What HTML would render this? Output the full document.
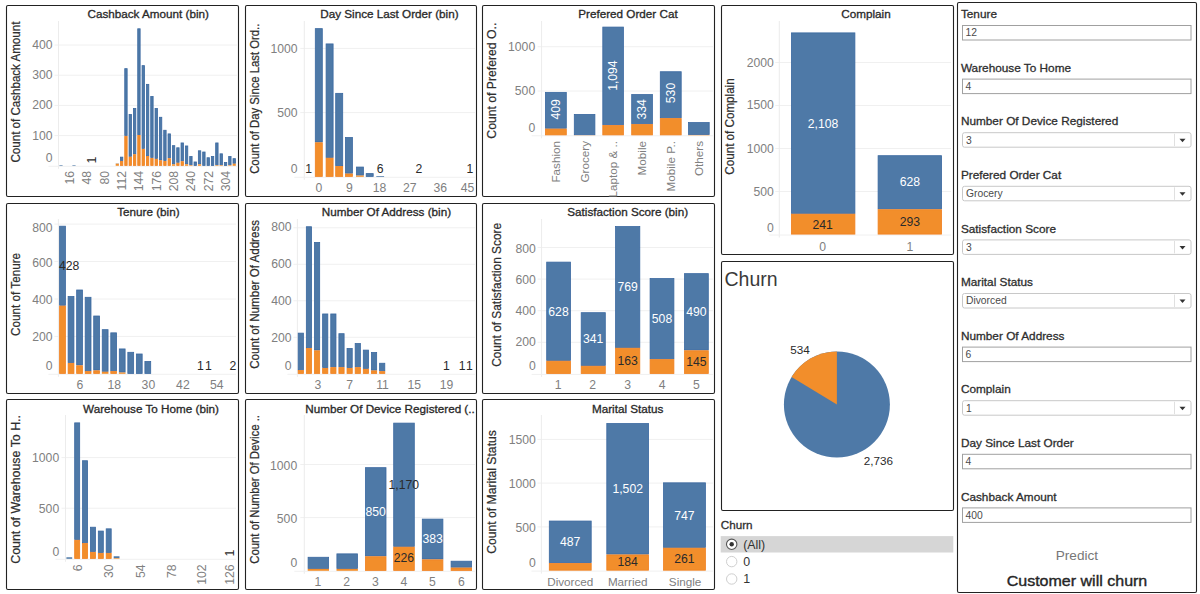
<!DOCTYPE html>
<html><head><meta charset="utf-8"><title>Churn Dashboard</title>
<style>html,body{margin:0;padding:0;background:#fff;width:1200px;height:594px;overflow:hidden}svg{display:block}</style>
</head><body>
<svg width="1200" height="594" viewBox="0 0 1200 594" font-family='"Liberation Sans", sans-serif'>
<rect width="1200" height="594" fill="#fff"/>
<rect x="6.5" y="5.5" width="232" height="191" rx="1.5" fill="#fff" stroke="#222" stroke-width="1.1"/>
<rect x="245.5" y="5.5" width="231" height="191" rx="1.5" fill="#fff" stroke="#222" stroke-width="1.1"/>
<rect x="482.5" y="5.5" width="232" height="191" rx="1.5" fill="#fff" stroke="#222" stroke-width="1.1"/>
<rect x="6.5" y="203.5" width="232" height="190" rx="1.5" fill="#fff" stroke="#222" stroke-width="1.1"/>
<rect x="245.5" y="203.5" width="231" height="190" rx="1.5" fill="#fff" stroke="#222" stroke-width="1.1"/>
<rect x="482.5" y="203.5" width="232" height="190" rx="1.5" fill="#fff" stroke="#222" stroke-width="1.1"/>
<rect x="6.5" y="399.5" width="232" height="190" rx="1.5" fill="#fff" stroke="#222" stroke-width="1.1"/>
<rect x="245.5" y="399.5" width="231" height="190" rx="1.5" fill="#fff" stroke="#222" stroke-width="1.1"/>
<rect x="482.5" y="399.5" width="232" height="190" rx="1.5" fill="#fff" stroke="#222" stroke-width="1.1"/>
<rect x="721.5" y="5.5" width="232" height="249" rx="1.5" fill="#fff" stroke="#222" stroke-width="1.1"/>
<rect x="721.5" y="261.5" width="232" height="249" rx="1.5" fill="#fff" stroke="#222" stroke-width="1.1"/>
<rect x="957.5" y="2.5" width="239" height="590" rx="1.5" fill="#fff" stroke="#222" stroke-width="1.1"/>
<line x1="54.5" y1="45.0" x2="237" y2="45.0" stroke="#f0f0f0" stroke-width="1"/>
<text x="52.5" y="49.1" font-size="12.2" text-anchor="end" fill="#808080" font-weight="normal">400</text>
<line x1="54.5" y1="75.2" x2="237" y2="75.2" stroke="#f0f0f0" stroke-width="1"/>
<text x="52.5" y="79.3" font-size="12.2" text-anchor="end" fill="#808080" font-weight="normal">300</text>
<line x1="54.5" y1="105.4" x2="237" y2="105.4" stroke="#f0f0f0" stroke-width="1"/>
<text x="52.5" y="109.4" font-size="12.2" text-anchor="end" fill="#808080" font-weight="normal">200</text>
<line x1="54.5" y1="135.6" x2="237" y2="135.6" stroke="#f0f0f0" stroke-width="1"/>
<text x="52.5" y="140.3" font-size="12.2" text-anchor="end" fill="#808080" font-weight="normal">100</text>
<text x="52.5" y="162.4" font-size="12.2" text-anchor="end" fill="#808080" font-weight="normal">0</text>
<line x1="58.5" y1="21" x2="58.5" y2="168.8" stroke="#ececec" stroke-width="1"/>
<line x1="48.5" y1="166.3" x2="237" y2="166.3" stroke="#f0f0f0" stroke-width="1"/>
<rect x="59.40" y="165.20" width="3.20" height="0.60" fill="#4e79a7"/>
<rect x="72.39" y="165.20" width="3.20" height="0.60" fill="#4e79a7"/>
<rect x="115.69" y="163.38" width="3.20" height="0.30" fill="#4e79a7"/>
<rect x="115.69" y="163.69" width="3.20" height="2.11" fill="#f28e2b"/>
<rect x="120.42" y="157.14" width="2.40" height="3.43" fill="#4e79a7" stroke="#3a68a0" stroke-width="0.8"/>
<rect x="120.42" y="161.37" width="2.40" height="4.03" fill="#f28e2b" stroke="#f08020" stroke-width="0.8"/>
<rect x="124.75" y="68.65" width="2.40" height="66.85" fill="#4e79a7" stroke="#3a68a0" stroke-width="0.8"/>
<rect x="124.75" y="136.30" width="2.40" height="29.10" fill="#f28e2b" stroke="#f08020" stroke-width="0.8"/>
<rect x="129.08" y="114.56" width="2.40" height="41.78" fill="#4e79a7" stroke="#3a68a0" stroke-width="0.8"/>
<rect x="129.08" y="157.14" width="2.40" height="8.26" fill="#f28e2b" stroke="#f08020" stroke-width="0.8"/>
<rect x="133.41" y="108.52" width="2.40" height="45.41" fill="#4e79a7" stroke="#3a68a0" stroke-width="0.8"/>
<rect x="133.41" y="154.72" width="2.40" height="10.68" fill="#f28e2b" stroke="#f08020" stroke-width="0.8"/>
<rect x="137.74" y="28.79" width="2.40" height="105.81" fill="#4e79a7" stroke="#3a68a0" stroke-width="0.8"/>
<rect x="137.74" y="135.40" width="2.40" height="30.00" fill="#f28e2b" stroke="#f08020" stroke-width="0.8"/>
<rect x="142.07" y="65.63" width="2.40" height="82.85" fill="#4e79a7" stroke="#3a68a0" stroke-width="0.8"/>
<rect x="142.07" y="149.29" width="2.40" height="16.11" fill="#f28e2b" stroke="#f08020" stroke-width="0.8"/>
<rect x="146.40" y="84.36" width="2.40" height="71.38" fill="#4e79a7" stroke="#3a68a0" stroke-width="0.8"/>
<rect x="146.40" y="156.54" width="2.40" height="8.86" fill="#f28e2b" stroke="#f08020" stroke-width="0.8"/>
<rect x="150.73" y="96.44" width="2.40" height="61.11" fill="#4e79a7" stroke="#3a68a0" stroke-width="0.8"/>
<rect x="150.73" y="158.35" width="2.40" height="7.05" fill="#f28e2b" stroke="#f08020" stroke-width="0.8"/>
<rect x="155.06" y="108.52" width="2.40" height="49.94" fill="#4e79a7" stroke="#3a68a0" stroke-width="0.8"/>
<rect x="155.06" y="159.25" width="2.40" height="6.15" fill="#f28e2b" stroke="#f08020" stroke-width="0.8"/>
<rect x="159.39" y="117.28" width="2.40" height="42.69" fill="#4e79a7" stroke="#3a68a0" stroke-width="0.8"/>
<rect x="159.39" y="160.76" width="2.40" height="4.64" fill="#f28e2b" stroke="#f08020" stroke-width="0.8"/>
<rect x="163.72" y="130.26" width="2.40" height="30.31" fill="#4e79a7" stroke="#3a68a0" stroke-width="0.8"/>
<rect x="163.72" y="161.37" width="2.40" height="4.03" fill="#f28e2b" stroke="#f08020" stroke-width="0.8"/>
<rect x="168.05" y="133.89" width="2.40" height="23.96" fill="#4e79a7" stroke="#3a68a0" stroke-width="0.8"/>
<rect x="168.05" y="158.65" width="2.40" height="6.75" fill="#f28e2b" stroke="#f08020" stroke-width="0.8"/>
<rect x="172.38" y="145.66" width="2.40" height="18.23" fill="#4e79a7" stroke="#3a68a0" stroke-width="0.8"/>
<rect x="171.98" y="164.29" width="3.20" height="1.51" fill="#f28e2b"/>
<rect x="176.71" y="147.78" width="2.40" height="14.60" fill="#4e79a7" stroke="#3a68a0" stroke-width="0.8"/>
<rect x="176.71" y="163.18" width="2.40" height="2.22" fill="#f28e2b" stroke="#f08020" stroke-width="0.8"/>
<rect x="181.04" y="142.95" width="2.40" height="17.92" fill="#4e79a7" stroke="#3a68a0" stroke-width="0.8"/>
<rect x="181.04" y="161.67" width="2.40" height="3.73" fill="#f28e2b" stroke="#f08020" stroke-width="0.8"/>
<rect x="185.37" y="145.97" width="2.40" height="17.92" fill="#4e79a7" stroke="#3a68a0" stroke-width="0.8"/>
<rect x="184.97" y="164.29" width="3.20" height="1.51" fill="#f28e2b"/>
<rect x="189.70" y="156.54" width="2.40" height="8.26" fill="#4e79a7" stroke="#3a68a0" stroke-width="0.8"/>
<rect x="189.30" y="165.20" width="3.20" height="0.60" fill="#f28e2b"/>
<rect x="194.03" y="161.97" width="2.40" height="3.43" fill="#4e79a7" stroke="#3a68a0" stroke-width="0.8"/>
<rect x="198.36" y="150.80" width="2.40" height="13.09" fill="#4e79a7" stroke="#3a68a0" stroke-width="0.8"/>
<rect x="197.96" y="164.29" width="3.20" height="1.51" fill="#f28e2b"/>
<rect x="202.69" y="152.01" width="2.40" height="13.39" fill="#4e79a7" stroke="#3a68a0" stroke-width="0.8"/>
<rect x="207.02" y="157.74" width="2.40" height="7.66" fill="#4e79a7" stroke="#3a68a0" stroke-width="0.8"/>
<rect x="211.35" y="156.54" width="2.40" height="8.86" fill="#4e79a7" stroke="#3a68a0" stroke-width="0.8"/>
<rect x="215.68" y="142.95" width="2.40" height="21.85" fill="#4e79a7" stroke="#3a68a0" stroke-width="0.8"/>
<rect x="215.28" y="165.20" width="3.20" height="0.60" fill="#f28e2b"/>
<rect x="220.01" y="153.82" width="2.40" height="10.98" fill="#4e79a7" stroke="#3a68a0" stroke-width="0.8"/>
<rect x="219.61" y="165.20" width="3.20" height="0.60" fill="#f28e2b"/>
<rect x="224.34" y="162.58" width="2.40" height="2.82" fill="#4e79a7" stroke="#3a68a0" stroke-width="0.8"/>
<rect x="228.67" y="156.54" width="2.40" height="8.26" fill="#4e79a7" stroke="#3a68a0" stroke-width="0.8"/>
<rect x="228.27" y="165.20" width="3.20" height="0.60" fill="#f28e2b"/>
<rect x="233.00" y="158.65" width="2.40" height="4.64" fill="#4e79a7" stroke="#3a68a0" stroke-width="0.8"/>
<rect x="232.60" y="163.69" width="3.20" height="2.11" fill="#f28e2b"/>
<text x="148.2" y="18.3" font-size="11.7" text-anchor="middle" fill="#2a2a2a" font-weight="normal" stroke="#2a2a2a" stroke-width="0.32">Cashback Amount (bin)</text>
<text transform="translate(15.4,92.1) rotate(-90)" x="0" y="4.3" font-size="12" text-anchor="middle" fill="#2e2e2e" font-weight="normal" stroke="#2e2e2e" stroke-width="0.22" textLength="140.9" lengthAdjust="spacingAndGlyphs">Count of Cashback Amount</text>
<text transform="translate(91.3,160.0) rotate(-90)" x="0" y="4.4" font-size="12.2" text-anchor="middle" fill="#2a2a2a" font-weight="normal">1</text>
<text transform="translate(69.7,171.0) rotate(-90)" x="0" y="4.4" font-size="12.2" text-anchor="end" fill="#808080" font-weight="normal">16</text>
<text transform="translate(87.0,171.0) rotate(-90)" x="0" y="4.4" font-size="12.2" text-anchor="end" fill="#808080" font-weight="normal">48</text>
<text transform="translate(104.3,171.0) rotate(-90)" x="0" y="4.4" font-size="12.2" text-anchor="end" fill="#808080" font-weight="normal">80</text>
<text transform="translate(121.6,171.0) rotate(-90)" x="0" y="4.4" font-size="12.2" text-anchor="end" fill="#808080" font-weight="normal">112</text>
<text transform="translate(138.9,171.0) rotate(-90)" x="0" y="4.4" font-size="12.2" text-anchor="end" fill="#808080" font-weight="normal">144</text>
<text transform="translate(156.3,171.0) rotate(-90)" x="0" y="4.4" font-size="12.2" text-anchor="end" fill="#808080" font-weight="normal">176</text>
<text transform="translate(173.6,171.0) rotate(-90)" x="0" y="4.4" font-size="12.2" text-anchor="end" fill="#808080" font-weight="normal">208</text>
<text transform="translate(190.9,171.0) rotate(-90)" x="0" y="4.4" font-size="12.2" text-anchor="end" fill="#808080" font-weight="normal">240</text>
<text transform="translate(208.2,171.0) rotate(-90)" x="0" y="4.4" font-size="12.2" text-anchor="end" fill="#808080" font-weight="normal">272</text>
<text transform="translate(225.5,171.0) rotate(-90)" x="0" y="4.4" font-size="12.2" text-anchor="end" fill="#808080" font-weight="normal">304</text>
<line x1="300.3" y1="48.4" x2="475" y2="48.4" stroke="#f0f0f0" stroke-width="1"/>
<text x="297.5" y="53.0" font-size="12.2" text-anchor="end" fill="#808080" font-weight="normal">1000</text>
<line x1="300.3" y1="112.6" x2="475" y2="112.6" stroke="#f0f0f0" stroke-width="1"/>
<text x="297.5" y="117.0" font-size="12.2" text-anchor="end" fill="#808080" font-weight="normal">500</text>
<text x="297.5" y="173.4" font-size="12.2" text-anchor="end" fill="#808080" font-weight="normal">0</text>
<line x1="304.3" y1="21" x2="304.3" y2="179.8" stroke="#ececec" stroke-width="1"/>
<line x1="294.3" y1="177.3" x2="475" y2="177.3" stroke="#f0f0f0" stroke-width="1"/>
<rect x="315.30" y="28.64" width="7.00" height="113.35" fill="#4e79a7" stroke="#3a68a0" stroke-width="0.8"/>
<rect x="315.30" y="142.79" width="7.00" height="33.61" fill="#f28e2b" stroke="#f08020" stroke-width="0.8"/>
<rect x="326.10" y="43.92" width="7.00" height="113.48" fill="#4e79a7" stroke="#3a68a0" stroke-width="0.8"/>
<rect x="326.10" y="158.20" width="7.00" height="18.20" fill="#f28e2b" stroke="#f08020" stroke-width="0.8"/>
<rect x="335.70" y="93.35" width="7.00" height="72.26" fill="#4e79a7" stroke="#3a68a0" stroke-width="0.8"/>
<rect x="335.70" y="166.41" width="7.00" height="9.99" fill="#f28e2b" stroke="#f08020" stroke-width="0.8"/>
<rect x="345.40" y="137.52" width="7.00" height="35.67" fill="#4e79a7" stroke="#3a68a0" stroke-width="0.8"/>
<rect x="345.40" y="173.99" width="7.00" height="2.41" fill="#f28e2b" stroke="#f08020" stroke-width="0.8"/>
<rect x="356.40" y="167.06" width="7.00" height="8.06" fill="#4e79a7" stroke="#3a68a0" stroke-width="0.8"/>
<rect x="356.00" y="175.52" width="7.80" height="1.28" fill="#f28e2b"/>
<rect x="366.20" y="173.60" width="7.00" height="2.80" fill="#4e79a7" stroke="#3a68a0" stroke-width="0.8"/>
<rect x="376.30" y="176.03" width="7.80" height="0.77" fill="#4e79a7"/>
<text x="389.4" y="18.4" font-size="11.7" text-anchor="middle" fill="#2a2a2a" font-weight="normal" stroke="#2a2a2a" stroke-width="0.32">Day Since Last Order (bin)</text>
<text transform="translate(254.6,98.7) rotate(-90)" x="0" y="4.3" font-size="12" text-anchor="middle" fill="#2e2e2e" font-weight="normal" stroke="#2e2e2e" stroke-width="0.22" textLength="150.2" lengthAdjust="spacingAndGlyphs">Count of Day Since Last Ord..</text>
<text x="308.7" y="172.9" font-size="12.2" text-anchor="middle" fill="#2a2a2a" font-weight="normal">1</text>
<text x="380.1" y="172.9" font-size="12.2" text-anchor="middle" fill="#2a2a2a" font-weight="normal">6</text>
<text x="419.0" y="172.9" font-size="12.2" text-anchor="middle" fill="#2a2a2a" font-weight="normal">2</text>
<text x="469.8" y="172.9" font-size="12.2" text-anchor="middle" fill="#2a2a2a" font-weight="normal">1</text>
<text x="318.8" y="192.4" font-size="12.2" text-anchor="middle" fill="#808080" font-weight="normal">0</text>
<text x="349.4" y="192.4" font-size="12.2" text-anchor="middle" fill="#808080" font-weight="normal">9</text>
<text x="379.6" y="192.4" font-size="12.2" text-anchor="middle" fill="#808080" font-weight="normal">18</text>
<text x="409.8" y="192.4" font-size="12.2" text-anchor="middle" fill="#808080" font-weight="normal">27</text>
<text x="440.3" y="192.4" font-size="12.2" text-anchor="middle" fill="#808080" font-weight="normal">36</text>
<text x="467.5" y="192.4" font-size="12.2" text-anchor="middle" fill="#808080" font-weight="normal">45</text>
<line x1="537.6" y1="46.7" x2="713" y2="46.7" stroke="#f0f0f0" stroke-width="1"/>
<text x="535.2" y="51.1" font-size="12.2" text-anchor="end" fill="#808080" font-weight="normal">1000</text>
<line x1="537.6" y1="91.0" x2="713" y2="91.0" stroke="#f0f0f0" stroke-width="1"/>
<text x="535.2" y="95.4" font-size="12.2" text-anchor="end" fill="#808080" font-weight="normal">500</text>
<text x="535.2" y="132.4" font-size="12.2" text-anchor="end" fill="#808080" font-weight="normal">0</text>
<line x1="541.6" y1="21" x2="541.6" y2="138.3" stroke="#ececec" stroke-width="1"/>
<line x1="531.6" y1="135.8" x2="713" y2="135.8" stroke="#f0f0f0" stroke-width="1"/>
<rect x="545.40" y="92.37" width="20.90" height="35.88" fill="#4e79a7" stroke="#3a68a0" stroke-width="0.8"/>
<rect x="545.40" y="129.06" width="20.90" height="5.84" fill="#f28e2b" stroke="#f08020" stroke-width="0.8"/>
<rect x="574.30" y="114.44" width="20.60" height="20.29" fill="#4e79a7" stroke="#3a68a0" stroke-width="0.8"/>
<rect x="573.90" y="135.12" width="21.40" height="0.18" fill="#f28e2b"/>
<rect x="602.80" y="27.08" width="20.60" height="97.63" fill="#4e79a7" stroke="#3a68a0" stroke-width="0.8"/>
<rect x="602.80" y="125.51" width="20.60" height="9.39" fill="#f28e2b" stroke="#f08020" stroke-width="0.8"/>
<rect x="631.70" y="94.59" width="20.70" height="29.15" fill="#4e79a7" stroke="#3a68a0" stroke-width="0.8"/>
<rect x="631.70" y="124.54" width="20.70" height="10.36" fill="#f28e2b" stroke="#f08020" stroke-width="0.8"/>
<rect x="660.30" y="71.73" width="20.90" height="46.07" fill="#4e79a7" stroke="#3a68a0" stroke-width="0.8"/>
<rect x="660.30" y="118.60" width="20.90" height="16.30" fill="#f28e2b" stroke="#f08020" stroke-width="0.8"/>
<rect x="688.50" y="122.59" width="20.70" height="11.96" fill="#4e79a7" stroke="#3a68a0" stroke-width="0.8"/>
<rect x="688.10" y="134.95" width="21.50" height="0.35" fill="#f28e2b"/>
<text x="628.0" y="18.2" font-size="11.7" text-anchor="middle" fill="#2a2a2a" font-weight="normal" stroke="#2a2a2a" stroke-width="0.32">Prefered Order Cat</text>
<text transform="translate(491.8,80.7) rotate(-90)" x="0" y="4.3" font-size="12" text-anchor="middle" fill="#2e2e2e" font-weight="normal" stroke="#2e2e2e" stroke-width="0.22" textLength="116" lengthAdjust="spacingAndGlyphs">Count of Prefered O..</text>
<text transform="translate(556.0,109.4) rotate(-90)" x="0" y="4.4" font-size="12.2" text-anchor="middle" fill="#ffffff" font-weight="normal">409</text>
<text transform="translate(613.0,75.6) rotate(-90)" x="0" y="4.4" font-size="12.2" text-anchor="middle" fill="#ffffff" font-weight="normal">1,094</text>
<text transform="translate(642.0,109.4) rotate(-90)" x="0" y="4.4" font-size="12.2" text-anchor="middle" fill="#ffffff" font-weight="normal">334</text>
<text transform="translate(670.7,93.0) rotate(-90)" x="0" y="4.4" font-size="12.2" text-anchor="middle" fill="#ffffff" font-weight="normal">530</text>
<text transform="translate(555.9,141.0) rotate(-90)" x="0" y="4.2" font-size="11.7" text-anchor="end" fill="#808080" font-weight="normal">Fashion</text>
<text transform="translate(584.6,141.0) rotate(-90)" x="0" y="4.2" font-size="11.7" text-anchor="end" fill="#808080" font-weight="normal">Grocery</text>
<text transform="translate(613.1,141.0) rotate(-90)" x="0" y="4.2" font-size="11.7" text-anchor="end" fill="#808080" font-weight="normal">Laptop &amp; ..</text>
<text transform="translate(642.0,141.0) rotate(-90)" x="0" y="4.2" font-size="11.7" text-anchor="end" fill="#808080" font-weight="normal">Mobile</text>
<text transform="translate(670.8,141.0) rotate(-90)" x="0" y="4.2" font-size="11.7" text-anchor="end" fill="#808080" font-weight="normal">Mobile P..</text>
<text transform="translate(698.9,141.0) rotate(-90)" x="0" y="4.2" font-size="11.7" text-anchor="end" fill="#808080" font-weight="normal">Others</text>
<line x1="775.3" y1="62.5" x2="951" y2="62.5" stroke="#f0f0f0" stroke-width="1"/>
<text x="773.9" y="67.0" font-size="12.2" text-anchor="end" fill="#808080" font-weight="normal">2000</text>
<line x1="775.3" y1="105.5" x2="951" y2="105.5" stroke="#f0f0f0" stroke-width="1"/>
<text x="773.9" y="109.4" font-size="12.2" text-anchor="end" fill="#808080" font-weight="normal">1500</text>
<line x1="775.3" y1="148.5" x2="951" y2="148.5" stroke="#f0f0f0" stroke-width="1"/>
<text x="773.9" y="153.4" font-size="12.2" text-anchor="end" fill="#808080" font-weight="normal">1000</text>
<line x1="775.3" y1="191.5" x2="951" y2="191.5" stroke="#f0f0f0" stroke-width="1"/>
<text x="773.9" y="196.4" font-size="12.2" text-anchor="end" fill="#808080" font-weight="normal">500</text>
<text x="773.9" y="232.1" font-size="12.2" text-anchor="end" fill="#808080" font-weight="normal">0</text>
<line x1="779.3" y1="21" x2="779.3" y2="237.5" stroke="#ececec" stroke-width="1"/>
<line x1="769.3" y1="235.0" x2="951" y2="235.0" stroke="#f0f0f0" stroke-width="1"/>
<rect x="791.40" y="32.89" width="63.50" height="180.49" fill="#4e79a7" stroke="#3a68a0" stroke-width="0.8"/>
<rect x="791.40" y="214.17" width="63.50" height="19.93" fill="#f28e2b" stroke="#f08020" stroke-width="0.8"/>
<rect x="878.10" y="155.69" width="63.50" height="53.21" fill="#4e79a7" stroke="#3a68a0" stroke-width="0.8"/>
<rect x="878.10" y="209.70" width="63.50" height="24.40" fill="#f28e2b" stroke="#f08020" stroke-width="0.8"/>
<text x="866.0" y="18.2" font-size="11.7" text-anchor="middle" fill="#2a2a2a" font-weight="normal" stroke="#2a2a2a" stroke-width="0.32">Complain</text>
<text transform="translate(729.8,126.5) rotate(-90)" x="0" y="4.3" font-size="12" text-anchor="middle" fill="#2e2e2e" font-weight="normal" stroke="#2e2e2e" stroke-width="0.22" textLength="96.3" lengthAdjust="spacingAndGlyphs">Count of Complain</text>
<text x="823.0" y="128.4" font-size="12.2" text-anchor="middle" fill="#ffffff" font-weight="normal">2,108</text>
<text x="822.7" y="228.6" font-size="12.2" text-anchor="middle" fill="#2a2a2a" font-weight="normal">241</text>
<text x="909.8" y="186.2" font-size="12.2" text-anchor="middle" fill="#ffffff" font-weight="normal">628</text>
<text x="909.8" y="226.4" font-size="12.2" text-anchor="middle" fill="#2a2a2a" font-weight="normal">293</text>
<text x="822.7" y="250.7" font-size="12.2" text-anchor="middle" fill="#808080" font-weight="normal">0</text>
<text x="909.8" y="250.7" font-size="12.2" text-anchor="middle" fill="#808080" font-weight="normal">1</text>
<line x1="54.4" y1="224.1" x2="236" y2="224.1" stroke="#f0f0f0" stroke-width="1"/>
<text x="52.6" y="231.6" font-size="12.2" text-anchor="end" fill="#808080" font-weight="normal">800</text>
<line x1="54.4" y1="261.5" x2="236" y2="261.5" stroke="#f0f0f0" stroke-width="1"/>
<text x="52.6" y="266.8" font-size="12.2" text-anchor="end" fill="#808080" font-weight="normal">600</text>
<line x1="54.4" y1="299.0" x2="236" y2="299.0" stroke="#f0f0f0" stroke-width="1"/>
<text x="52.6" y="303.8" font-size="12.2" text-anchor="end" fill="#808080" font-weight="normal">400</text>
<line x1="54.4" y1="336.4" x2="236" y2="336.4" stroke="#f0f0f0" stroke-width="1"/>
<text x="52.6" y="340.6" font-size="12.2" text-anchor="end" fill="#808080" font-weight="normal">200</text>
<text x="52.6" y="370.1" font-size="12.2" text-anchor="end" fill="#808080" font-weight="normal">0</text>
<line x1="58.4" y1="219" x2="58.4" y2="376.8" stroke="#ececec" stroke-width="1"/>
<line x1="48.4" y1="374.3" x2="236" y2="374.3" stroke="#f0f0f0" stroke-width="1"/>
<rect x="59.60" y="226.20" width="5.80" height="79.09" fill="#4e79a7" stroke="#3a68a0" stroke-width="0.8"/>
<rect x="59.60" y="306.10" width="5.80" height="67.30" fill="#f28e2b" stroke="#f08020" stroke-width="0.8"/>
<rect x="68.13" y="296.55" width="5.80" height="65.99" fill="#4e79a7" stroke="#3a68a0" stroke-width="0.8"/>
<rect x="68.13" y="363.35" width="5.80" height="10.05" fill="#f28e2b" stroke="#f08020" stroke-width="0.8"/>
<rect x="76.66" y="290.00" width="5.80" height="74.98" fill="#4e79a7" stroke="#3a68a0" stroke-width="0.8"/>
<rect x="76.66" y="365.78" width="5.80" height="7.62" fill="#f28e2b" stroke="#f08020" stroke-width="0.8"/>
<rect x="85.19" y="297.30" width="5.80" height="73.48" fill="#4e79a7" stroke="#3a68a0" stroke-width="0.8"/>
<rect x="85.19" y="371.58" width="5.80" height="1.82" fill="#f28e2b" stroke="#f08020" stroke-width="0.8"/>
<rect x="93.72" y="316.01" width="5.80" height="54.02" fill="#4e79a7" stroke="#3a68a0" stroke-width="0.8"/>
<rect x="93.72" y="370.83" width="5.80" height="2.57" fill="#f28e2b" stroke="#f08020" stroke-width="0.8"/>
<rect x="102.25" y="329.67" width="5.80" height="41.67" fill="#4e79a7" stroke="#3a68a0" stroke-width="0.8"/>
<rect x="101.85" y="371.74" width="6.60" height="2.06" fill="#f28e2b"/>
<rect x="110.78" y="332.85" width="5.80" height="37.93" fill="#4e79a7" stroke="#3a68a0" stroke-width="0.8"/>
<rect x="110.78" y="371.58" width="5.80" height="1.82" fill="#f28e2b" stroke="#f08020" stroke-width="0.8"/>
<rect x="119.31" y="348.94" width="5.80" height="23.15" fill="#4e79a7" stroke="#3a68a0" stroke-width="0.8"/>
<rect x="118.91" y="372.49" width="6.60" height="1.31" fill="#f28e2b"/>
<rect x="127.84" y="352.31" width="5.80" height="21.09" fill="#4e79a7" stroke="#3a68a0" stroke-width="0.8"/>
<rect x="136.37" y="353.99" width="5.80" height="19.41" fill="#4e79a7" stroke="#3a68a0" stroke-width="0.8"/>
<rect x="144.90" y="361.48" width="5.80" height="11.92" fill="#4e79a7" stroke="#3a68a0" stroke-width="0.8"/>
<text x="148.4" y="216.2" font-size="11.7" text-anchor="middle" fill="#2a2a2a" font-weight="normal" stroke="#2a2a2a" stroke-width="0.32">Tenure (bin)</text>
<text transform="translate(15.6,294.4) rotate(-90)" x="0" y="4.3" font-size="12" text-anchor="middle" fill="#2e2e2e" font-weight="normal" stroke="#2e2e2e" stroke-width="0.22" textLength="83" lengthAdjust="spacingAndGlyphs">Count of Tenure</text>
<text x="59.0" y="270.0" font-size="12.2" text-anchor="start" fill="#2a2a2a" font-weight="normal">428</text>
<text x="200.3" y="370.1" font-size="12.2" text-anchor="middle" fill="#2a2a2a" font-weight="normal">1</text>
<text x="208.5" y="370.1" font-size="12.2" text-anchor="middle" fill="#2a2a2a" font-weight="normal">1</text>
<text x="233.0" y="370.1" font-size="12.2" text-anchor="middle" fill="#2a2a2a" font-weight="normal">2</text>
<text x="79.8" y="389.2" font-size="12.2" text-anchor="middle" fill="#808080" font-weight="normal">6</text>
<text x="114.3" y="389.2" font-size="12.2" text-anchor="middle" fill="#808080" font-weight="normal">18</text>
<text x="148.4" y="389.2" font-size="12.2" text-anchor="middle" fill="#808080" font-weight="normal">30</text>
<text x="182.9" y="389.2" font-size="12.2" text-anchor="middle" fill="#808080" font-weight="normal">42</text>
<text x="216.7" y="389.2" font-size="12.2" text-anchor="middle" fill="#808080" font-weight="normal">54</text>
<line x1="293.4" y1="227.8" x2="475" y2="227.8" stroke="#f0f0f0" stroke-width="1"/>
<text x="291.6" y="231.4" font-size="12.2" text-anchor="end" fill="#808080" font-weight="normal">800</text>
<line x1="293.4" y1="264.3" x2="475" y2="264.3" stroke="#f0f0f0" stroke-width="1"/>
<text x="291.6" y="268.4" font-size="12.2" text-anchor="end" fill="#808080" font-weight="normal">600</text>
<line x1="293.4" y1="300.8" x2="475" y2="300.8" stroke="#f0f0f0" stroke-width="1"/>
<text x="291.6" y="305.2" font-size="12.2" text-anchor="end" fill="#808080" font-weight="normal">400</text>
<line x1="293.4" y1="337.3" x2="475" y2="337.3" stroke="#f0f0f0" stroke-width="1"/>
<text x="291.6" y="342.2" font-size="12.2" text-anchor="end" fill="#808080" font-weight="normal">200</text>
<text x="291.6" y="370.1" font-size="12.2" text-anchor="end" fill="#808080" font-weight="normal">0</text>
<line x1="297.4" y1="219" x2="297.4" y2="376.8" stroke="#ececec" stroke-width="1"/>
<line x1="287.4" y1="374.3" x2="475" y2="374.3" stroke="#f0f0f0" stroke-width="1"/>
<rect x="298.20" y="333.14" width="5.20" height="36.61" fill="#4e79a7" stroke="#3a68a0" stroke-width="0.8"/>
<rect x="298.20" y="370.55" width="5.20" height="2.85" fill="#f28e2b" stroke="#f08020" stroke-width="0.8"/>
<rect x="306.34" y="226.74" width="5.20" height="120.93" fill="#4e79a7" stroke="#3a68a0" stroke-width="0.8"/>
<rect x="306.34" y="348.47" width="5.20" height="24.93" fill="#f28e2b" stroke="#f08020" stroke-width="0.8"/>
<rect x="314.48" y="242.44" width="5.20" height="107.60" fill="#4e79a7" stroke="#3a68a0" stroke-width="0.8"/>
<rect x="314.48" y="350.84" width="5.20" height="22.56" fill="#f28e2b" stroke="#f08020" stroke-width="0.8"/>
<rect x="322.62" y="313.97" width="5.20" height="53.59" fill="#4e79a7" stroke="#3a68a0" stroke-width="0.8"/>
<rect x="322.62" y="368.36" width="5.20" height="5.04" fill="#f28e2b" stroke="#f08020" stroke-width="0.8"/>
<rect x="330.76" y="313.97" width="5.20" height="52.86" fill="#4e79a7" stroke="#3a68a0" stroke-width="0.8"/>
<rect x="330.76" y="367.63" width="5.20" height="5.77" fill="#f28e2b" stroke="#f08020" stroke-width="0.8"/>
<rect x="338.90" y="333.69" width="5.20" height="33.15" fill="#4e79a7" stroke="#3a68a0" stroke-width="0.8"/>
<rect x="338.90" y="367.63" width="5.20" height="5.77" fill="#f28e2b" stroke="#f08020" stroke-width="0.8"/>
<rect x="347.04" y="348.47" width="5.20" height="19.09" fill="#4e79a7" stroke="#3a68a0" stroke-width="0.8"/>
<rect x="347.04" y="368.36" width="5.20" height="5.04" fill="#f28e2b" stroke="#f08020" stroke-width="0.8"/>
<rect x="355.18" y="343.54" width="5.20" height="23.29" fill="#4e79a7" stroke="#3a68a0" stroke-width="0.8"/>
<rect x="355.18" y="367.63" width="5.20" height="5.77" fill="#f28e2b" stroke="#f08020" stroke-width="0.8"/>
<rect x="363.32" y="350.11" width="5.20" height="18.36" fill="#4e79a7" stroke="#3a68a0" stroke-width="0.8"/>
<rect x="363.32" y="369.27" width="5.20" height="4.13" fill="#f28e2b" stroke="#f08020" stroke-width="0.8"/>
<rect x="371.46" y="352.48" width="5.20" height="17.63" fill="#4e79a7" stroke="#3a68a0" stroke-width="0.8"/>
<rect x="371.46" y="370.91" width="5.20" height="2.49" fill="#f28e2b" stroke="#f08020" stroke-width="0.8"/>
<rect x="379.60" y="363.25" width="5.20" height="7.59" fill="#4e79a7" stroke="#3a68a0" stroke-width="0.8"/>
<rect x="379.60" y="371.64" width="5.20" height="1.75" fill="#f28e2b" stroke="#f08020" stroke-width="0.8"/>
<text x="386.4" y="216.2" font-size="11.7" text-anchor="middle" fill="#2a2a2a" font-weight="normal" stroke="#2a2a2a" stroke-width="0.32">Number Of Address (bin)</text>
<text transform="translate(254.6,294.4) rotate(-90)" x="0" y="4.3" font-size="12" text-anchor="middle" fill="#2e2e2e" font-weight="normal" stroke="#2e2e2e" stroke-width="0.22" textLength="148.8" lengthAdjust="spacingAndGlyphs">Count of Number Of Address</text>
<text x="446.5" y="370.1" font-size="12.2" text-anchor="middle" fill="#2a2a2a" font-weight="normal">1</text>
<text x="462.2" y="370.1" font-size="12.2" text-anchor="middle" fill="#2a2a2a" font-weight="normal">1</text>
<text x="469.4" y="370.1" font-size="12.2" text-anchor="middle" fill="#2a2a2a" font-weight="normal">1</text>
<text x="317.8" y="389.2" font-size="12.2" text-anchor="middle" fill="#808080" font-weight="normal">3</text>
<text x="349.7" y="389.2" font-size="12.2" text-anchor="middle" fill="#808080" font-weight="normal">7</text>
<text x="382.5" y="389.2" font-size="12.2" text-anchor="middle" fill="#808080" font-weight="normal">11</text>
<text x="414.3" y="389.2" font-size="12.2" text-anchor="middle" fill="#808080" font-weight="normal">15</text>
<text x="446.5" y="389.2" font-size="12.2" text-anchor="middle" fill="#808080" font-weight="normal">19</text>
<line x1="537.6" y1="247.5" x2="713" y2="247.5" stroke="#f0f0f0" stroke-width="1"/>
<text x="535.8" y="252.6" font-size="12.2" text-anchor="end" fill="#808080" font-weight="normal">800</text>
<line x1="537.6" y1="279.1" x2="713" y2="279.1" stroke="#f0f0f0" stroke-width="1"/>
<text x="535.8" y="284.1" font-size="12.2" text-anchor="end" fill="#808080" font-weight="normal">600</text>
<line x1="537.6" y1="310.7" x2="713" y2="310.7" stroke="#f0f0f0" stroke-width="1"/>
<text x="535.8" y="315.4" font-size="12.2" text-anchor="end" fill="#808080" font-weight="normal">400</text>
<line x1="537.6" y1="342.3" x2="713" y2="342.3" stroke="#f0f0f0" stroke-width="1"/>
<text x="535.8" y="346.4" font-size="12.2" text-anchor="end" fill="#808080" font-weight="normal">200</text>
<text x="535.8" y="370.1" font-size="12.2" text-anchor="end" fill="#808080" font-weight="normal">0</text>
<line x1="541.6" y1="219" x2="541.6" y2="376.9" stroke="#ececec" stroke-width="1"/>
<line x1="531.6" y1="374.4" x2="713" y2="374.4" stroke="#f0f0f0" stroke-width="1"/>
<rect x="546.70" y="262.12" width="23.80" height="98.27" fill="#4e79a7" stroke="#3a68a0" stroke-width="0.8"/>
<rect x="546.70" y="361.19" width="23.80" height="12.31" fill="#f28e2b" stroke="#f08020" stroke-width="0.8"/>
<rect x="581.20" y="312.68" width="24.10" height="52.76" fill="#4e79a7" stroke="#3a68a0" stroke-width="0.8"/>
<rect x="581.20" y="366.24" width="24.10" height="7.26" fill="#f28e2b" stroke="#f08020" stroke-width="0.8"/>
<rect x="615.60" y="226.57" width="24.20" height="120.86" fill="#4e79a7" stroke="#3a68a0" stroke-width="0.8"/>
<rect x="615.60" y="348.23" width="24.20" height="25.27" fill="#f28e2b" stroke="#f08020" stroke-width="0.8"/>
<rect x="650.10" y="278.55" width="23.80" height="80.25" fill="#4e79a7" stroke="#3a68a0" stroke-width="0.8"/>
<rect x="650.10" y="359.61" width="23.80" height="13.89" fill="#f28e2b" stroke="#f08020" stroke-width="0.8"/>
<rect x="684.50" y="273.65" width="23.80" height="76.30" fill="#4e79a7" stroke="#3a68a0" stroke-width="0.8"/>
<rect x="684.50" y="350.76" width="23.80" height="22.74" fill="#f28e2b" stroke="#f08020" stroke-width="0.8"/>
<text x="627.7" y="216.2" font-size="11.7" text-anchor="middle" fill="#2a2a2a" font-weight="normal" stroke="#2a2a2a" stroke-width="0.32">Satisfaction Score (bin)</text>
<text transform="translate(496.8,294.9) rotate(-90)" x="0" y="4.3" font-size="12" text-anchor="middle" fill="#2e2e2e" font-weight="normal" stroke="#2e2e2e" stroke-width="0.22" textLength="143.9" lengthAdjust="spacingAndGlyphs">Count of Satisfaction Score</text>
<text x="558.5" y="316.0" font-size="12.2" text-anchor="middle" fill="#ffffff" font-weight="normal">628</text>
<text x="593.2" y="343.2" font-size="12.2" text-anchor="middle" fill="#ffffff" font-weight="normal">341</text>
<text x="627.7" y="291.4" font-size="12.2" text-anchor="middle" fill="#ffffff" font-weight="normal">769</text>
<text x="662.0" y="322.5" font-size="12.2" text-anchor="middle" fill="#ffffff" font-weight="normal">508</text>
<text x="696.4" y="316.0" font-size="12.2" text-anchor="middle" fill="#ffffff" font-weight="normal">490</text>
<text x="627.7" y="365.2" font-size="12.2" text-anchor="middle" fill="#2a2a2a" font-weight="normal">163</text>
<text x="696.4" y="365.9" font-size="12.2" text-anchor="middle" fill="#2a2a2a" font-weight="normal">145</text>
<text x="558.1" y="389.2" font-size="12.2" text-anchor="middle" fill="#808080" font-weight="normal">1</text>
<text x="592.6" y="389.2" font-size="12.2" text-anchor="middle" fill="#808080" font-weight="normal">2</text>
<text x="627.7" y="389.2" font-size="12.2" text-anchor="middle" fill="#808080" font-weight="normal">3</text>
<text x="662.2" y="389.2" font-size="12.2" text-anchor="middle" fill="#808080" font-weight="normal">4</text>
<text x="696.3" y="389.2" font-size="12.2" text-anchor="middle" fill="#808080" font-weight="normal">5</text>
<line x1="61.5" y1="457.6" x2="236" y2="457.6" stroke="#f0f0f0" stroke-width="1"/>
<text x="59.2" y="462.1" font-size="12.2" text-anchor="end" fill="#808080" font-weight="normal">1000</text>
<line x1="61.5" y1="508.2" x2="236" y2="508.2" stroke="#f0f0f0" stroke-width="1"/>
<text x="59.2" y="513.0" font-size="12.2" text-anchor="end" fill="#808080" font-weight="normal">500</text>
<text x="59.2" y="555.6" font-size="12.2" text-anchor="end" fill="#808080" font-weight="normal">0</text>
<line x1="65.5" y1="415" x2="65.5" y2="561.8" stroke="#ececec" stroke-width="1"/>
<line x1="55.5" y1="559.3" x2="236" y2="559.3" stroke="#f0f0f0" stroke-width="1"/>
<rect x="66.40" y="557.28" width="5.80" height="1.52" fill="#4e79a7"/>
<rect x="74.68" y="422.88" width="5.00" height="116.59" fill="#4e79a7" stroke="#3a68a0" stroke-width="0.8"/>
<rect x="74.68" y="540.28" width="5.00" height="18.12" fill="#f28e2b" stroke="#f08020" stroke-width="0.8"/>
<rect x="82.56" y="460.73" width="5.00" height="81.98" fill="#4e79a7" stroke="#3a68a0" stroke-width="0.8"/>
<rect x="82.56" y="543.51" width="5.00" height="14.89" fill="#f28e2b" stroke="#f08020" stroke-width="0.8"/>
<rect x="90.44" y="527.22" width="5.00" height="24.30" fill="#4e79a7" stroke="#3a68a0" stroke-width="0.8"/>
<rect x="90.44" y="552.32" width="5.00" height="6.08" fill="#f28e2b" stroke="#f08020" stroke-width="0.8"/>
<rect x="98.32" y="531.07" width="5.00" height="21.46" fill="#4e79a7" stroke="#3a68a0" stroke-width="0.8"/>
<rect x="98.32" y="553.33" width="5.00" height="5.07" fill="#f28e2b" stroke="#f08020" stroke-width="0.8"/>
<rect x="106.20" y="528.84" width="5.00" height="23.69" fill="#4e79a7" stroke="#3a68a0" stroke-width="0.8"/>
<rect x="106.20" y="553.33" width="5.00" height="5.07" fill="#f28e2b" stroke="#f08020" stroke-width="0.8"/>
<rect x="113.68" y="556.27" width="5.80" height="1.92" fill="#4e79a7"/>
<rect x="113.68" y="558.19" width="5.80" height="0.61" fill="#f28e2b"/>
<text x="151.0" y="412.7" font-size="11.7" text-anchor="middle" fill="#2a2a2a" font-weight="normal" stroke="#2a2a2a" stroke-width="0.32">Warehouse To Home (bin)</text>
<text transform="translate(15.6,489.4) rotate(-90)" x="0" y="4.3" font-size="12" text-anchor="middle" fill="#2e2e2e" font-weight="normal" stroke="#2e2e2e" stroke-width="0.22" textLength="148.8" lengthAdjust="spacingAndGlyphs">Count of Warehouse To H..</text>
<text transform="translate(229.2,553.0) rotate(-90)" x="0" y="4.4" font-size="12.2" text-anchor="middle" fill="#2a2a2a" font-weight="normal">1</text>
<text transform="translate(77.9,564.4) rotate(-90)" x="0" y="4.4" font-size="12.2" text-anchor="end" fill="#808080" font-weight="normal">6</text>
<text transform="translate(109.0,564.4) rotate(-90)" x="0" y="4.4" font-size="12.2" text-anchor="end" fill="#808080" font-weight="normal">30</text>
<text transform="translate(140.2,564.4) rotate(-90)" x="0" y="4.4" font-size="12.2" text-anchor="end" fill="#808080" font-weight="normal">54</text>
<text transform="translate(171.7,564.4) rotate(-90)" x="0" y="4.4" font-size="12.2" text-anchor="end" fill="#808080" font-weight="normal">78</text>
<text transform="translate(201.9,564.4) rotate(-90)" x="0" y="4.4" font-size="12.2" text-anchor="end" fill="#808080" font-weight="normal">102</text>
<text transform="translate(229.8,564.4) rotate(-90)" x="0" y="4.4" font-size="12.2" text-anchor="end" fill="#808080" font-weight="normal">126</text>
<line x1="300.3" y1="464.5" x2="475" y2="464.5" stroke="#f0f0f0" stroke-width="1"/>
<text x="297.2" y="469.7" font-size="12.2" text-anchor="end" fill="#808080" font-weight="normal">1000</text>
<line x1="300.3" y1="517.6" x2="475" y2="517.6" stroke="#f0f0f0" stroke-width="1"/>
<text x="297.2" y="522.8" font-size="12.2" text-anchor="end" fill="#808080" font-weight="normal">500</text>
<text x="297.2" y="567.1" font-size="12.2" text-anchor="end" fill="#808080" font-weight="normal">0</text>
<line x1="304.3" y1="415" x2="304.3" y2="573.8" stroke="#ececec" stroke-width="1"/>
<line x1="294.3" y1="571.3" x2="475" y2="571.3" stroke="#f0f0f0" stroke-width="1"/>
<rect x="308.10" y="557.27" width="20.50" height="11.21" fill="#4e79a7" stroke="#3a68a0" stroke-width="0.8"/>
<rect x="307.70" y="568.89" width="21.30" height="1.91" fill="#f28e2b"/>
<rect x="336.90" y="553.87" width="20.60" height="14.61" fill="#4e79a7" stroke="#3a68a0" stroke-width="0.8"/>
<rect x="336.50" y="568.89" width="21.40" height="1.91" fill="#f28e2b"/>
<rect x="365.40" y="467.66" width="20.60" height="88.28" fill="#4e79a7" stroke="#3a68a0" stroke-width="0.8"/>
<rect x="365.40" y="556.74" width="20.60" height="13.66" fill="#f28e2b" stroke="#f08020" stroke-width="0.8"/>
<rect x="393.70" y="423.12" width="20.60" height="123.25" fill="#4e79a7" stroke="#3a68a0" stroke-width="0.8"/>
<rect x="393.70" y="547.18" width="20.60" height="23.22" fill="#f28e2b" stroke="#f08020" stroke-width="0.8"/>
<rect x="422.30" y="519.11" width="20.60" height="39.91" fill="#4e79a7" stroke="#3a68a0" stroke-width="0.8"/>
<rect x="422.30" y="559.83" width="20.60" height="10.57" fill="#f28e2b" stroke="#f08020" stroke-width="0.8"/>
<rect x="451.10" y="561.21" width="20.50" height="6.00" fill="#4e79a7" stroke="#3a68a0" stroke-width="0.8"/>
<rect x="451.10" y="568.01" width="20.50" height="2.39" fill="#f28e2b" stroke="#f08020" stroke-width="0.8"/>
<text x="390.0" y="412.7" font-size="11.7" text-anchor="middle" fill="#2a2a2a" font-weight="normal" stroke="#2a2a2a" stroke-width="0.32">Number Of Device Registered (..</text>
<text transform="translate(254.6,489.4) rotate(-90)" x="0" y="4.3" font-size="12" text-anchor="middle" fill="#2e2e2e" font-weight="normal" stroke="#2e2e2e" stroke-width="0.22" textLength="148.8" lengthAdjust="spacingAndGlyphs">Count of Number Of Device ..</text>
<text x="375.7" y="515.6" font-size="12.2" text-anchor="middle" fill="#ffffff" font-weight="normal">850</text>
<text x="403.8" y="489.0" font-size="12.2" text-anchor="middle" fill="#2a2a2a" font-weight="normal">1,170</text>
<text x="403.8" y="562.2" font-size="12.2" text-anchor="middle" fill="#2a2a2a" font-weight="normal">226</text>
<text x="432.6" y="543.2" font-size="12.2" text-anchor="middle" fill="#ffffff" font-weight="normal">383</text>
<text x="317.8" y="586.2" font-size="12.2" text-anchor="middle" fill="#808080" font-weight="normal">1</text>
<text x="346.6" y="586.2" font-size="12.2" text-anchor="middle" fill="#808080" font-weight="normal">2</text>
<text x="375.4" y="586.2" font-size="12.2" text-anchor="middle" fill="#808080" font-weight="normal">3</text>
<text x="403.8" y="586.2" font-size="12.2" text-anchor="middle" fill="#808080" font-weight="normal">4</text>
<text x="432.4" y="586.2" font-size="12.2" text-anchor="middle" fill="#808080" font-weight="normal">5</text>
<text x="461.3" y="586.2" font-size="12.2" text-anchor="middle" fill="#808080" font-weight="normal">6</text>
<line x1="537.4" y1="439.4" x2="713" y2="439.4" stroke="#f0f0f0" stroke-width="1"/>
<text x="535.8" y="444.1" font-size="12.2" text-anchor="end" fill="#808080" font-weight="normal">1500</text>
<line x1="537.4" y1="483.1" x2="713" y2="483.1" stroke="#f0f0f0" stroke-width="1"/>
<text x="535.8" y="488.4" font-size="12.2" text-anchor="end" fill="#808080" font-weight="normal">1000</text>
<line x1="537.4" y1="526.9" x2="713" y2="526.9" stroke="#f0f0f0" stroke-width="1"/>
<text x="535.8" y="532.0" font-size="12.2" text-anchor="end" fill="#808080" font-weight="normal">500</text>
<text x="535.8" y="567.1" font-size="12.2" text-anchor="end" fill="#808080" font-weight="normal">0</text>
<line x1="541.4" y1="415" x2="541.4" y2="573.6" stroke="#ececec" stroke-width="1"/>
<line x1="531.4" y1="571.1" x2="713" y2="571.1" stroke="#f0f0f0" stroke-width="1"/>
<rect x="549.30" y="521.05" width="41.90" height="41.54" fill="#4e79a7" stroke="#3a68a0" stroke-width="0.8"/>
<rect x="549.30" y="563.39" width="41.90" height="6.81" fill="#f28e2b" stroke="#f08020" stroke-width="0.8"/>
<rect x="606.80" y="423.53" width="41.80" height="130.58" fill="#4e79a7" stroke="#3a68a0" stroke-width="0.8"/>
<rect x="606.80" y="554.91" width="41.80" height="15.29" fill="#f28e2b" stroke="#f08020" stroke-width="0.8"/>
<rect x="663.50" y="482.83" width="41.90" height="64.54" fill="#4e79a7" stroke="#3a68a0" stroke-width="0.8"/>
<rect x="663.50" y="548.17" width="41.90" height="22.03" fill="#f28e2b" stroke="#f08020" stroke-width="0.8"/>
<text x="627.7" y="412.7" font-size="11.7" text-anchor="middle" fill="#2a2a2a" font-weight="normal" stroke="#2a2a2a" stroke-width="0.32">Marital Status</text>
<text transform="translate(491.6,492.0) rotate(-90)" x="0" y="4.3" font-size="12" text-anchor="middle" fill="#2e2e2e" font-weight="normal" stroke="#2e2e2e" stroke-width="0.22" textLength="123.7" lengthAdjust="spacingAndGlyphs">Count of Marital Status</text>
<text x="570.2" y="545.8" font-size="12.2" text-anchor="middle" fill="#ffffff" font-weight="normal">487</text>
<text x="627.7" y="493.3" font-size="12.2" text-anchor="middle" fill="#ffffff" font-weight="normal">1,502</text>
<text x="684.4" y="519.5" font-size="12.2" text-anchor="middle" fill="#ffffff" font-weight="normal">747</text>
<text x="627.7" y="565.5" font-size="12.2" text-anchor="middle" fill="#2a2a2a" font-weight="normal">184</text>
<text x="684.4" y="562.9" font-size="12.2" text-anchor="middle" fill="#2a2a2a" font-weight="normal">261</text>
<text x="570.3" y="586.0" font-size="11.7" text-anchor="middle" fill="#808080" font-weight="normal">Divorced</text>
<text x="627.7" y="586.0" font-size="11.7" text-anchor="middle" fill="#808080" font-weight="normal">Married</text>
<text x="685.1" y="586.0" font-size="11.7" text-anchor="middle" fill="#808080" font-weight="normal">Single</text>
<circle cx="836.9" cy="404.5" r="53" fill="#4e79a7"/>
<path d="M836.9,404.5 L836.9,351.5 A53,53 0 0 0 791.57,377.04 Z" fill="#f28e2b"/>
<text x="724.5" y="285.7" font-size="19.5" text-anchor="start" fill="#3a3a3a" font-weight="normal">Churn</text>
<text x="799.9" y="354.0" font-size="11.7" text-anchor="middle" fill="#2a2a2a" font-weight="normal">534</text>
<text x="878.3" y="464.7" font-size="11.7" text-anchor="middle" fill="#2a2a2a" font-weight="normal">2,736</text>
<text x="720.7" y="529.2" font-size="11.7" text-anchor="start" fill="#2e2e2e" font-weight="normal" stroke="#2e2e2e" stroke-width="0.3">Churn</text>
<rect x="720.7" y="536.1" width="232.6" height="16.4" fill="#d6d6d6"/>
<circle cx="731.7" cy="544.3" r="5.2" fill="#fff" stroke="#555" stroke-width="1.1"/>
<circle cx="731.7" cy="544.3" r="2.2" fill="#333"/>
<text x="743.2" y="548.7" font-size="12.4" text-anchor="start" fill="#333333" font-weight="normal">(All)</text>
<circle cx="731.7" cy="561.6" r="5.2" fill="#fff" stroke="#cfcfcf" stroke-width="1"/>
<text x="743.2" y="566.0" font-size="12.4" text-anchor="start" fill="#333333" font-weight="normal">0</text>
<circle cx="731.7" cy="579" r="5.2" fill="#fff" stroke="#cfcfcf" stroke-width="1"/>
<text x="743.2" y="583.4" font-size="12.4" text-anchor="start" fill="#333333" font-weight="normal">1</text>
<text x="960.9" y="18.2" font-size="11.8" text-anchor="start" fill="#2e2e2e" font-weight="normal" stroke="#2e2e2e" stroke-width="0.3">Tenure</text>
<rect x="962.5" y="25.5" width="228.5" height="14.5" fill="#fff" stroke="#a0a0a0" stroke-width="1"/>
<text x="965.5" y="36.4" font-size="10.3" text-anchor="start" fill="#4a4a4a" font-weight="normal">12</text>
<text x="960.9" y="71.8" font-size="11.8" text-anchor="start" fill="#2e2e2e" font-weight="normal" stroke="#2e2e2e" stroke-width="0.3">Warehouse To Home</text>
<rect x="962.5" y="79.1" width="228.5" height="14.5" fill="#fff" stroke="#a0a0a0" stroke-width="1"/>
<text x="965.5" y="90.0" font-size="10.3" text-anchor="start" fill="#4a4a4a" font-weight="normal">4</text>
<text x="960.9" y="125.4" font-size="11.8" text-anchor="start" fill="#2e2e2e" font-weight="normal" stroke="#2e2e2e" stroke-width="0.3">Number Of Device Registered</text>
<rect x="962.5" y="132.7" width="228.5" height="14.5" rx="2" fill="#fff" stroke="#c8c8c8" stroke-width="1"/>
<line x1="1174.5" y1="133.7" x2="1174.5" y2="146.2" stroke="#e0e0e0" stroke-width="1"/>
<path d="M1179.5,138.7 h6 l-3,3.5 z" fill="#333"/>
<text x="966.0" y="143.6" font-size="10.3" text-anchor="start" fill="#4a4a4a" font-weight="normal">3</text>
<text x="960.9" y="179.0" font-size="11.8" text-anchor="start" fill="#2e2e2e" font-weight="normal" stroke="#2e2e2e" stroke-width="0.3">Prefered Order Cat</text>
<rect x="962.5" y="186.3" width="228.5" height="14.5" rx="2" fill="#fff" stroke="#c8c8c8" stroke-width="1"/>
<line x1="1174.5" y1="187.3" x2="1174.5" y2="199.8" stroke="#e0e0e0" stroke-width="1"/>
<path d="M1179.5,192.3 h6 l-3,3.5 z" fill="#333"/>
<text x="966.0" y="197.2" font-size="10.3" text-anchor="start" fill="#4a4a4a" font-weight="normal">Grocery</text>
<text x="960.9" y="232.6" font-size="11.8" text-anchor="start" fill="#2e2e2e" font-weight="normal" stroke="#2e2e2e" stroke-width="0.3">Satisfaction Score</text>
<rect x="962.5" y="239.9" width="228.5" height="14.5" rx="2" fill="#fff" stroke="#c8c8c8" stroke-width="1"/>
<line x1="1174.5" y1="240.9" x2="1174.5" y2="253.4" stroke="#e0e0e0" stroke-width="1"/>
<path d="M1179.5,245.9 h6 l-3,3.5 z" fill="#333"/>
<text x="966.0" y="250.8" font-size="10.3" text-anchor="start" fill="#4a4a4a" font-weight="normal">3</text>
<text x="960.9" y="286.2" font-size="11.8" text-anchor="start" fill="#2e2e2e" font-weight="normal" stroke="#2e2e2e" stroke-width="0.3">Marital Status</text>
<rect x="962.5" y="293.5" width="228.5" height="14.5" rx="2" fill="#fff" stroke="#c8c8c8" stroke-width="1"/>
<line x1="1174.5" y1="294.5" x2="1174.5" y2="307.0" stroke="#e0e0e0" stroke-width="1"/>
<path d="M1179.5,299.5 h6 l-3,3.5 z" fill="#333"/>
<text x="966.0" y="304.4" font-size="10.3" text-anchor="start" fill="#4a4a4a" font-weight="normal">Divorced</text>
<text x="960.9" y="339.8" font-size="11.8" text-anchor="start" fill="#2e2e2e" font-weight="normal" stroke="#2e2e2e" stroke-width="0.3">Number Of Address</text>
<rect x="962.5" y="347.1" width="228.5" height="14.5" fill="#fff" stroke="#a0a0a0" stroke-width="1"/>
<text x="965.5" y="358.0" font-size="10.3" text-anchor="start" fill="#4a4a4a" font-weight="normal">6</text>
<text x="960.9" y="393.4" font-size="11.8" text-anchor="start" fill="#2e2e2e" font-weight="normal" stroke="#2e2e2e" stroke-width="0.3">Complain</text>
<rect x="962.5" y="400.7" width="228.5" height="14.5" rx="2" fill="#fff" stroke="#c8c8c8" stroke-width="1"/>
<line x1="1174.5" y1="401.7" x2="1174.5" y2="414.2" stroke="#e0e0e0" stroke-width="1"/>
<path d="M1179.5,406.7 h6 l-3,3.5 z" fill="#333"/>
<text x="966.0" y="411.6" font-size="10.3" text-anchor="start" fill="#4a4a4a" font-weight="normal">1</text>
<text x="960.9" y="447.0" font-size="11.8" text-anchor="start" fill="#2e2e2e" font-weight="normal" stroke="#2e2e2e" stroke-width="0.3">Day Since Last Order</text>
<rect x="962.5" y="454.3" width="228.5" height="14.5" fill="#fff" stroke="#a0a0a0" stroke-width="1"/>
<text x="965.5" y="465.2" font-size="10.3" text-anchor="start" fill="#4a4a4a" font-weight="normal">4</text>
<text x="960.9" y="500.6" font-size="11.8" text-anchor="start" fill="#2e2e2e" font-weight="normal" stroke="#2e2e2e" stroke-width="0.3">Cashback Amount</text>
<rect x="962.5" y="507.9" width="228.5" height="14.5" fill="#fff" stroke="#a0a0a0" stroke-width="1"/>
<text x="965.5" y="518.8" font-size="10.3" text-anchor="start" fill="#4a4a4a" font-weight="normal">400</text>
<text x="1076.9" y="559.5" font-size="13.6" text-anchor="middle" fill="#777777" font-weight="normal" textLength="42.3" lengthAdjust="spacingAndGlyphs">Predict</text>
<text x="1077.0" y="586.4" font-size="15.2" text-anchor="middle" fill="#262626" font-weight="normal" stroke="#262626" stroke-width="0.38" textLength="140.6" lengthAdjust="spacingAndGlyphs">Customer will churn</text>
</svg>
</body></html>
